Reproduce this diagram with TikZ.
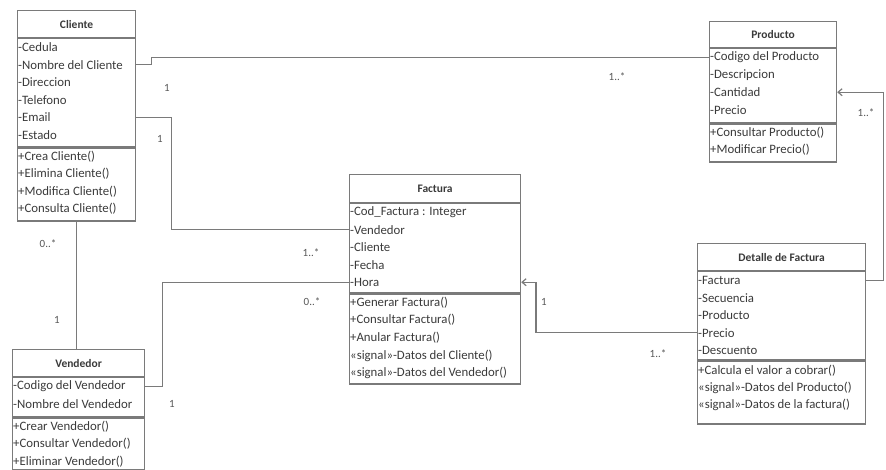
\documentclass[tikz,border=0pt]{standalone}
\usepackage{fontspec}
\setmainfont{Carlito}
\usetikzlibrary{arrows.meta,positioning}
\definecolor{umlline}{HTML}{7A7A7A}
\definecolor{umltext}{HTML}{3A3A3A}

\begin{document}
\begin{tikzpicture}[
    x=1pt, y=-1pt,
    title/.style={rectangle, draw=umlline, line width=1.2pt, anchor=north west, inner sep=0pt, font=\fontsize{11.5}{13}\selectfont\bfseries, text=umltext},
    comp/.style={rectangle, draw=umlline, line width=1.2pt, inner sep=0pt},
    row/.style={anchor=west, inner sep=0pt, font=\fontsize{12.8}{14}\selectfont, text=umltext},
    mult/.style={inner sep=1pt, font=\fontsize{11}{13}\selectfont, text=umltext!85},
    assoc/.style={draw=umlline, line width=1.2pt},
    nav/.style={assoc, -{Straight Barb[length=4pt,width=7pt]}}
]
\useasboundingbox (0,0) rectangle (886,469);

% Cliente
\node[title, minimum width=118, minimum height=27] (cliT) at (17,10) {Cliente};
\node[comp, minimum width=118, minimum height=108, below=0pt of cliT] (cliA) {};
\node[comp, minimum width=118, minimum height=73, below=0pt of cliA] (cliM) {};
\foreach \t [count=\i] in {-Cedula, -Nombre del Cliente, -Direccion, -Telefono, -Email, -Estado}
  \node[row] (cliA\i) at ([xshift=1pt, yshift={-9pt-(\i-1)*17.5pt}] cliA.north west) {\t};
\foreach \t [count=\i] in {+Crea Cliente(), +Elimina Cliente(), +Modifica Cliente(), +Consulta Cliente()}
  \node[row] (cliM\i) at ([xshift=1pt, yshift={-9pt-(\i-1)*17.5pt}] cliM.north west) {\t};

% Vendedor
\node[title, minimum width=132, minimum height=27] (venT) at (12,349) {Vendedor};
\node[comp, minimum width=132, minimum height=39, below=0pt of venT] (venA) {};
\node[comp, minimum width=132, minimum height=52, below=0pt of venA] (venM) {};
\foreach \t [count=\i] in {-Codigo del Vendedor, -Nombre del Vendedor}
  \node[row] (venA\i) at ([xshift=1pt, yshift={-9pt-(\i-1)*17.5pt}] venA.north west) {\t};
\foreach \t [count=\i] in {+Crear Vendedor(), +Consultar Vendedor(), +Eliminar Vendedor()}
  \node[row] (venM\i) at ([xshift=1pt, yshift={-9pt-(\i-1)*17.5pt}] venM.north west) {\t};

% Factura
\node[title, minimum width=171, minimum height=28] (facT) at (349,174) {Factura};
\node[comp, minimum width=171, minimum height=89, below=0pt of facT] (facA) {};
\node[comp, minimum width=171, minimum height=90, below=0pt of facA] (facM) {};
\foreach \t [count=\i] in {-Cod\_Factura : Integer, -Vendedor, -Cliente, -Fecha, -Hora}
  \node[row] (facA\i) at ([xshift=1pt, yshift={-9pt-(\i-1)*17.5pt}] facA.north west) {\t};
\foreach \t [count=\i] in {+Generar Factura(), +Consultar Factura(), +Anular Factura(), «signal»-Datos del Cliente(), «signal»-Datos del Vendedor()}
  \node[row] (facM\i) at ([xshift=1pt, yshift={-9pt-(\i-1)*17.7pt}] facM.north west) {\t};

% Producto
\node[title, minimum width=127, minimum height=26] (proT) at (709,21) {Producto};
\node[comp, minimum width=127, minimum height=74, below=0pt of proT] (proA) {};
\node[comp, minimum width=127, minimum height=38, below=0pt of proA] (proM) {};
\foreach \t [count=\i] in {-Codigo del Producto, -Descripcion, -Cantidad, -Precio}
  \node[row] (proA\i) at ([xshift=1pt, yshift={-9pt-(\i-1)*17.5pt}] proA.north west) {\t};
\foreach \t [count=\i] in {+Consultar Producto(), +Modificar Precio()}
  \node[row] (proM\i) at ([xshift=1pt, yshift={-9pt-(\i-1)*17.5pt}] proM.north west) {\t};

% Detalle de Factura
\node[title, minimum width=168, minimum height=27] (detT) at (697,243) {Detalle de Factura};
\node[comp, minimum width=168, minimum height=88, below=0pt of detT] (detA) {};
\node[comp, minimum width=168, minimum height=63, below=0pt of detA] (detM) {};
\foreach \t [count=\i] in {-Factura, -Secuencia, -Producto, -Precio, -Descuento}
  \node[row] (detA\i) at ([xshift=1pt, yshift={-9pt-(\i-1)*17.5pt}] detA.north west) {\t};
\foreach \t [count=\i] in {+Calcula el valor a cobrar(), «signal»-Datos del Producto(), «signal»-Datos de la factura()}
  \node[row] (detM\i) at ([xshift=1pt, yshift={-10pt-(\i-1)*17.5pt}] detM.north west) {\t};

% associations
\draw[assoc] (cliA2 -| cliA.east) -- ++(15,0) |- (proA1 -| proA.west);
\draw[assoc] (cliA5 -| cliA.east) -- ++(35,0) |- (facA2 -| facA.west);
\draw[assoc] (cliM.south) -- (cliM.south |- venT.north);
\draw[assoc] (venA1 -| venA.east) -- ++(17,0) |- (facA5 -| facA.west);
\draw[nav] (detA4 -| detA.west) -- ++(-161,0) |- (facA5 -| facA.east);
\draw[nav] (detA1 -| detA.east) -- ++(17,0) |- (proA3 -| proA.east);

% multiplicities
\node[mult] (mCliPro) at (167,88) {1};
\node[mult] (mProCli) at (617,77) {1..*};
\node[mult] (mCliFac) at (160,139) {1};
\node[mult] (mFacCli) at (311,253) {1..*};
\node[mult] (mCliVen) at (48,244) {0..*};
\node[mult] (mVenCli) at (57,320) {1};
\node[mult] (mFacVen) at (312,302) {0..*};
\node[mult] (mVenFac) at (172,404) {1};
\node[mult] (mFacDet) at (544,302) {1};
\node[mult] (mDetFac) at (658,354) {1..*};
\node[mult] (mDetPro) at (866,113) {1..*};
\end{tikzpicture}
\end{document}
